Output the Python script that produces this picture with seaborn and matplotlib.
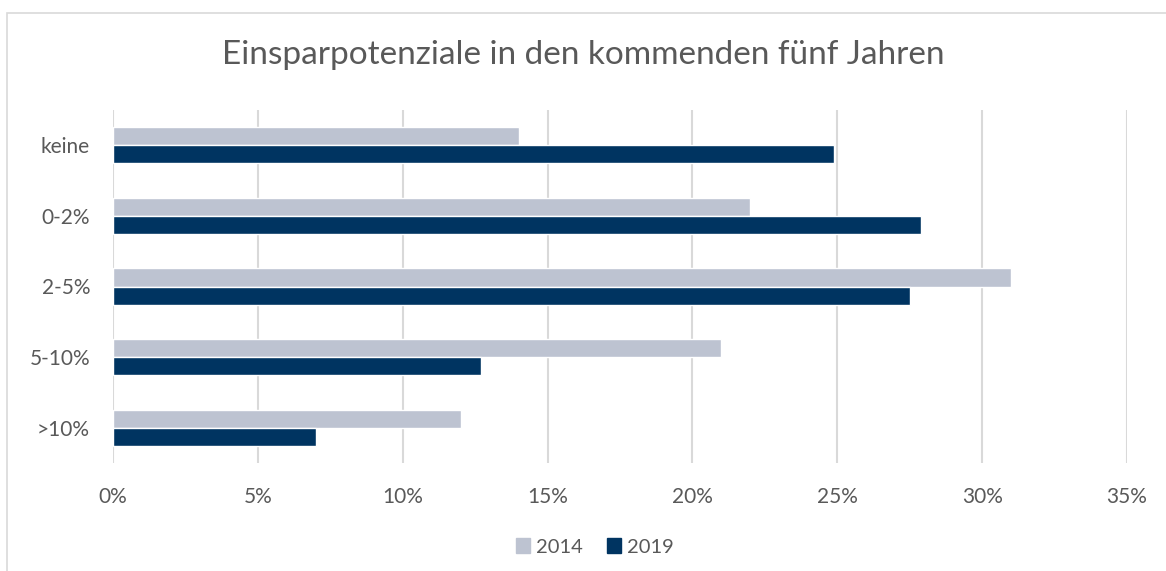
import matplotlib
matplotlib.use("Agg")
import matplotlib.pyplot as plt
import seaborn as sns
import pandas as pd
from matplotlib.patches import Rectangle
from matplotlib.ticker import FuncFormatter, MultipleLocator

categories = ["keine", "0-2%", "2-5%", "5-10%", ">10%"]
years = ["2014", "2019"]
values_2014 = [14.0, 22.0, 31.0, 21.0, 12.0]
values_2019 = [24.9, 27.9, 27.5, 12.7, 7.0]
title = "Einsparpotenziale in den kommenden fünf Jahren"

df = pd.DataFrame({
    "Kategorie": categories * 2,
    "Jahr": [years[0]] * len(categories) + [years[1]] * len(categories),
    "Wert": values_2014 + values_2019,
})

sns.set_theme(style="white")
plt.rcParams["font.family"] = ["Lato", "DejaVu Sans"]

fig = plt.figure(figsize=(11.66, 5.71), dpi=100)
ax = fig.add_axes([113 / 1166, 1 - 463 / 571, (1127 - 113) / 1166, (463 - 110) / 571])

palette = {"2014": "#BDC3D1", "2019": "#003461"}
sns.barplot(data=df, y="Kategorie", x="Wert", hue="Jahr", order=categories,
            hue_order=years, palette=palette, orient="h", width=0.51, gap=0,
            saturation=1, ax=ax, legend=False)

ax.set_xlim(0, 35)
ax.set_ylim(4.5, -0.5)
ax.xaxis.set_major_locator(MultipleLocator(5))
ax.xaxis.set_major_formatter(FuncFormatter(lambda v, p: f"{int(round(v))}%"))
ax.grid(axis="x", color="#D9D9D9", linewidth=1.5)
ax.set_axisbelow(True)
for s in ax.spines.values():
    s.set_visible(False)
ax.set_xlabel("")
ax.set_ylabel("")
ax.tick_params(axis="x", length=0, pad=17, labelsize=15, labelcolor="#595959")
ax.tick_params(axis="y", length=0, pad=16.5, labelsize=15, labelcolor="#595959")

fig.text(0.5, 1 - 55 / 571, title, ha="center", va="center", fontsize=24,
         color="#595959")

# outer chart border
fig.patches.append(Rectangle((7 / 1166, -0.1), 1.2, (571 - 13) / 571 + 0.1,
                             transform=fig.transFigure, fill=False,
                             edgecolor="#D9D9D9", linewidth=1.2))

handles = [Rectangle((0, 0), 1, 1, color=palette[y]) for y in years]
fig.legend(handles, years, loc="center", bbox_to_anchor=(0.51, 1 - 547 / 571),
           ncol=2, frameon=False, fontsize=14.5, labelcolor="#595959",
           handlelength=0.7, handleheight=0.7, handletextpad=0.3, columnspacing=1.2)

fig.savefig("out.png", dpi=100)
